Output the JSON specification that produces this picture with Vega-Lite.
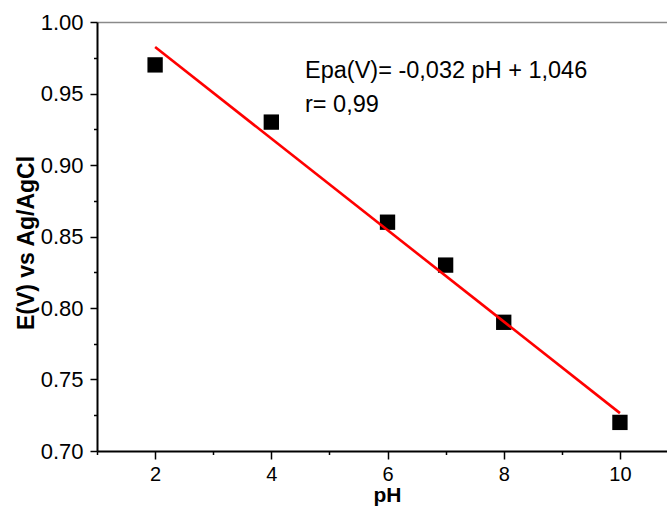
{
  "$schema": "https://vega.github.io/schema/vega-lite/v6.json",
  "autosize": {"type": "none"},
  "padding": {"left": 97, "top": 22, "right": 0, "bottom": 55},
  "width": 570,
  "height": 429,
  "background": "white",
  "config": {
    "view": {"stroke": null},
    "axis": {"labelFont": "Liberation Sans", "titleFont": "Liberation Sans", "grid": false, "labelColor": "black", "titleColor": "black"}
  },
  "datasets": {
    "pts": [
      {"pH": 2, "E": 0.97},
      {"pH": 4, "E": 0.93},
      {"pH": 6, "E": 0.86},
      {"pH": 7, "E": 0.83},
      {"pH": 8, "E": 0.79},
      {"pH": 10, "E": 0.72}
    ],
    "fit": [
      {"pH": 2, "E": 0.9825},
      {"pH": 10, "E": 0.7265}
    ],
    "notes": [
      {"pH": 4.58, "E": 0.9608, "label": "Epa(V)= -0,032 pH + 1,046"},
      {"pH": 4.58, "E": 0.9374, "label": "r= 0,99"}
    ]
  },
  "layer": [
    {
      "data": {"name": "pts"},
      "mark": {"type": "point", "shape": "square", "filled": true, "color": "black", "size": 235, "opacity": 1, "clip": false},
      "encoding": {
        "x": {"field": "pH", "type": "quantitative", "scale": {"domain": [1, 10.81], "nice": false, "zero": false},
          "axis": {"orient": "bottom", "values": [2, 4, 6, 8, 10], "tickSize": 8, "tickWidth": 1.5, "tickColor": "black", "domainColor": "black", "domainWidth": 2, "labelFontSize": 20, "labelPadding": 5, "title": "pH", "titleFontSize": 21, "titleFontWeight": "bold", "titleX": 290, "titleY": 50.5, "titleBaseline": "alphabetic", "titleAlign": "center"}},
        "y": {"field": "E", "type": "quantitative", "scale": {"domain": [0.7, 1.0], "nice": false, "zero": false},
          "axis": {"orient": "left", "values": [0.7, 0.75, 0.8, 0.85, 0.9, 0.95, 1.0], "format": ".2f", "tickSize": 7, "tickWidth": 1.5, "tickColor": "black", "domainColor": "black", "domainWidth": 2, "labelFontSize": 22, "labelPadding": 7, "title": "E(V) vs Ag/AgCl", "titleFontSize": 23, "titleFontWeight": "bold", "titleX": -64, "titleY": 220.5, "titleBaseline": "alphabetic", "titleAlign": "center", "titleAngle": 270}}
      }
    },
    {
      "data": {"name": "fit"},
      "mark": {"type": "line", "color": "#ff0000", "strokeWidth": 2.6},
      "encoding": {
        "x": {"field": "pH", "type": "quantitative",
          "axis": {"orient": "bottom", "values": [1, 3, 5, 7, 9], "tickSize": 3.5, "tickWidth": 1.5, "tickColor": "black", "domain": false, "labels": false, "title": null}},
        "y": {"field": "E", "type": "quantitative",
          "axis": {"orient": "left", "values": [0.725, 0.775, 0.825, 0.875, 0.925, 0.975], "tickSize": 3.5, "tickWidth": 1.5, "tickColor": "black", "domain": false, "labels": false, "title": null}}
      }
    },
    {
      "data": {"name": "notes"},
      "mark": {"type": "text", "align": "left", "baseline": "alphabetic", "font": "Liberation Sans", "fontSize": 23.5, "color": "black"},
      "encoding": {
        "x": {"field": "pH", "type": "quantitative",
          "axis": {"orient": "top", "domain": true, "domainColor": "#8a8a8a", "domainWidth": 1.5, "ticks": false, "labels": false, "title": null}},
        "y": {"field": "E", "type": "quantitative", "axis": null},
        "text": {"field": "label"}
      }
    }
  ],
  "resolve": {"axis": {"x": "independent", "y": "independent"}}
}
